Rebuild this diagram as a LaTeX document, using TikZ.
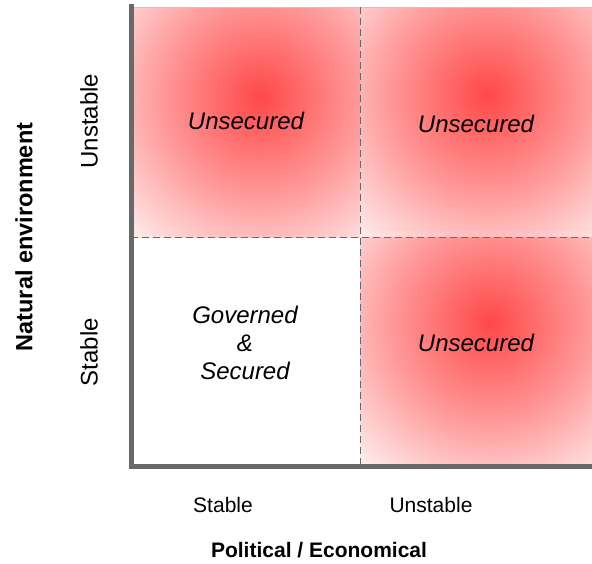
\documentclass[tikz,border=0pt]{standalone}
\usepackage{fontspec}
\setmainfont{Liberation Sans}
\usepackage{tikz}
\usetikzlibrary{positioning}

\definecolor{glowred}{RGB}{255,72,72}
\definecolor{axisgray}{RGB}{105,105,105}
\pgfdeclareradialshading{redglow}{\pgfpointorigin}{color(0bp)=(glowred); color(12bp)=(glowred!55!white); color(25bp)=(white); color(50bp)=(white)}

\begin{document}
\begin{tikzpicture}[x=1pt, y=-1pt,
    axis/.style={draw=axisgray, line width=5pt},
    divider/.style={draw=axisgray, line width=1.8pt, dash pattern=on 7pt off 4pt},
    cell/.style={font=\fontsize{24}{28}\selectfont\itshape, align=center},
    tick/.style={font=\fontsize{21}{25}\selectfont},
    title/.style={font=\fontsize{21}{25}\selectfont\bfseries}]
    \useasboundingbox (0,0) rectangle (592,563);

    % Shaded quadrants {x1/y1/x2/y2/centre}
    \foreach \xa/\ya/\xb/\yb/\cx/\cy in {131/7/360/237/260/97, 360/7/592/237/487/95, 360/237/592/466/490/323} {
        \begin{scope}
            \clip (\xa,\ya) rectangle (\xb,\yb);
            \shade [shading=redglow] (\cx-210,\cy-210) rectangle (\cx+210,\cy+210);
        \end{scope}
    }

    % Coordinates
    \coordinate (top)    at (131,4);
    \coordinate (origin) at (131,466);
    \coordinate (right)  at (592,466);
    \coordinate (tl)     at (131,7);
    \coordinate (tr)     at (592,7);
    \coordinate (vtop)   at (360.5,7);
    \coordinate (vbot)   at (360.5,466);
    \coordinate (hleft)  at (131,237.5);
    \coordinate (hright) at (592,237.5);

    % Lines
    \draw [gray!45, line width=1pt] (tl) -- (tr);
    \draw [divider] (vtop) -- (vbot);
    \draw [divider] (hleft) -- (hright);
    \draw [axis] (top) -- (origin) -- (right);

    % Nodes
    \node [cell] (q1) at (246,121) {Unsecured};
    \node [cell] (q2) at (476,124) {Unsecured};
    \node [cell] (q3) at (476,343) {Unsecured};
    \node [cell] (q4) at (245,343) {Governed\\\&\\Secured};

    \node [tick] (xs) at (223,505) {Stable};
    \node [tick] (xu) at (431,505) {Unstable};
    \node [title] (xt) at (319,550) {Political / Economical};

    \node [tick, rotate=90, font=\fontsize{24}{28}\selectfont] (yu) at (89,121) {Unstable};
    \node [tick, rotate=90, font=\fontsize{24}{28}\selectfont] (ys) at (89,352) {Stable};
    \node [title, rotate=90, font=\fontsize{23.5}{28}\selectfont\bfseries] (yt) at (24,237) {Natural environment};

\end{tikzpicture}
\end{document}
